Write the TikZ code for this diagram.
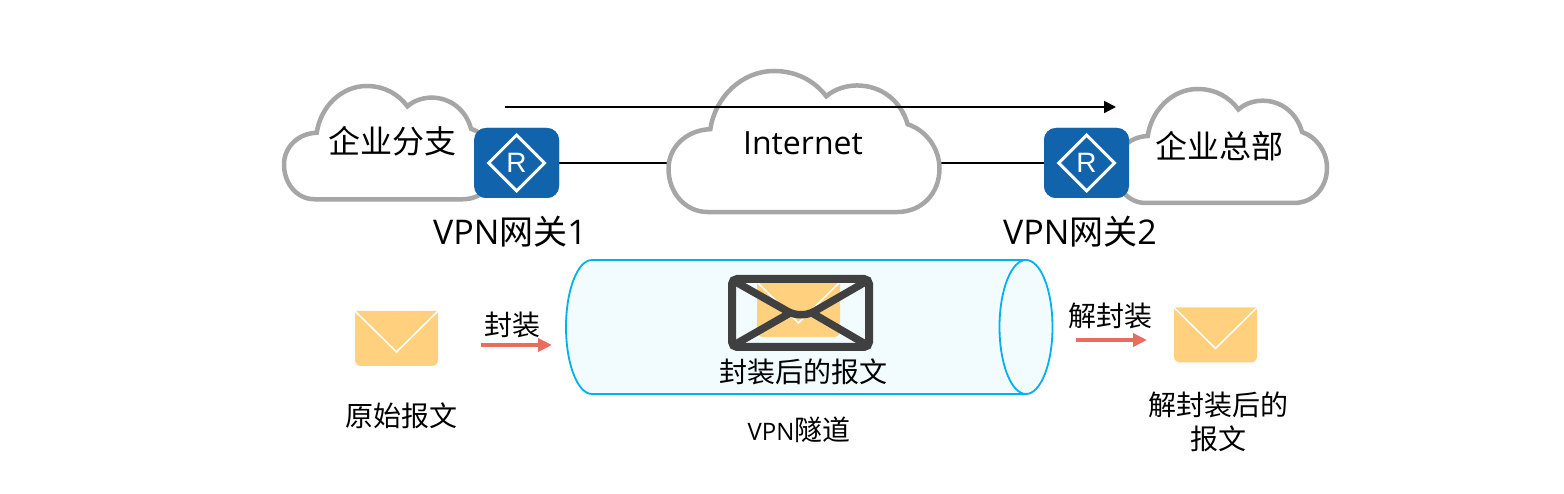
\documentclass[tikz,border=0pt]{standalone}
\usepackage{fontspec}
\setmainfont{Open Sans}
\newfontfamily\cjk{Noto Sans CJK SC}
\usetikzlibrary{arrows.meta,shapes.geometric}
\definecolor{cloudgray}{HTML}{A6A6A6}
\definecolor{routerblue}{HTML}{1164AC}
\definecolor{tunnelcyan}{HTML}{00B0F0}
\definecolor{tunnelfill}{HTML}{F2FBFE}
\definecolor{mailyellow}{HTML}{FFD17F}
\definecolor{maildark}{HTML}{404040}
\definecolor{arrowred}{HTML}{E96D5F}
\newcommand{\fsz}[1]{\fontsize{#1}{#1}\selectfont}
\newcommand{\cloudshape}{(118,429) .. controls (50,429) and (0,370) .. (0,297) .. controls (0,235) and (50,180) .. (126,177)
 .. controls (140,80) and (220,0) .. (318,0) .. controls (385,0) and (440,30) .. (475,77) .. controls (500,55) and (535,44) .. (568,44)
 .. controls (640,44) and (700,90) .. (720,162) .. controls (775,180) and (816,235) .. (816,297) .. controls (816,370) and (765,429) .. (688,429) -- cycle}
\newcommand{\mailicon}[2]{\begin{scope}[shift={(#1,#2)}]
 \fill[mailyellow] (0,0) -- (83,0) [rounded corners=6pt] -- (83,55) -- (0,55) [sharp corners] -- cycle;
 \draw[white,line width=1.5pt] (0,0) -- (41.5,41) -- (83,0);
\end{scope}}
\tikzset{
 cloudline/.style={draw=cloudgray,fill=white,line width=4.5pt,line join=miter},
 routerbox/.style={fill=routerblue,rounded corners=12pt,minimum width=85pt,minimum height=70pt,inner sep=0pt},
 routermark/.style={diamond,draw=white,line width=3pt,minimum width=57pt,minimum height=57pt,inner sep=0pt,aspect=1},
 link/.style={draw=black,line width=2pt},
 lbl/.style={inner sep=0pt,font=\cjk\fsz{28},text=black,align=center},
 biglbl/.style={inner sep=0pt,font=\fsz{32},text=black},
 redarrow/.style={draw=arrowred,line width=4pt,-{Triangle[length=14pt,width=13pt]}},
 tube/.style={draw=tunnelcyan,fill=tunnelfill,line width=1.8pt}
}
\begin{document}
\begin{tikzpicture}[x=1pt,y=-1pt]
\useasboundingbox (0,0) rectangle (1564,494);
% named anchors
\node[routerbox] (r1) at (516.5,163) {};
\node[routerbox] (r2) at (1086.5,163) {};
\node[inner sep=0pt,minimum width=271pt,minimum height=141pt] (inet) at (804,141.5) {};
\coordinate (flowstart) at (505,107);
\coordinate (flowend) at (1116,107);
\coordinate (redaS) at (481,345);
\coordinate (redaE) at (552,345);
\coordinate (redbS) at (1076,340);
\coordinate (redbE) at (1147,340);
% connectors under clouds
\draw[link] (r1.east) -- (r1.east -| inet.center);
\draw[link] (r2.west -| inet.center) -- (r2.west);
% clouds
\begin{scope}[shift={(284,86)},xscale=0.2598,yscale=0.2640]
 \path[cloudline] \cloudshape;
\end{scope}
\begin{scope}[shift={(668.5,71)},xscale=0.3321,yscale=0.3287]
 \path[cloudline] \cloudshape;
\end{scope}
\begin{scope}[shift={(1115,89)},xscale=0.2598,yscale=0.2657]
 \path[cloudline] \cloudshape;
\end{scope}
% routers
\node[routerbox] at (r1) {};
\node[routerbox] at (r2) {};
\node[routermark] (m1) at (r1) {};
\node[routermark] (m2) at (r2) {};
\node[inner sep=0pt,text=white,font=\fontspec{Liberation Sans}\fsz{28}] (mr1) at (r1) {R};
\node[inner sep=0pt,text=white,font=\fontspec{Liberation Sans}\fsz{28}] (mr2) at (r2) {R};
% top arrow
\draw[link,-{Triangle[length=12pt,width=12pt]}] (flowstart) -- (flowend);
% top labels
\node[biglbl,font=\cjk\fsz{32}] (t1) at (392,141) {企业分支};
\node[biglbl] (t2) at (803,143) {Internet};
\node[biglbl,font=\cjk\fsz{32}] (t3) at (1219,146) {企业总部};
\node[biglbl,font=\fsz{34}] (g1) at (510,232) {VPN{\cjk\fsz{34}网关}1};
\node[biglbl,font=\fsz{34}] (g2) at (1080,232) {VPN{\cjk\fsz{34}网关}2};
% tunnel
\path[tube] (592,260) -- (1026,260) -- (1026,394) -- (592,394) arc[start angle=90,end angle=270,x radius=26,y radius=67] -- cycle;
\path[tube] (1026,327) ellipse[x radius=26.5,y radius=67];
% envelopes
\mailicon{355}{311}
\mailicon{1174}{307.5}
\mailicon{757}{282}
\draw[maildark,line width=8pt,rounded corners=5pt] (732,279) rectangle (869,347);
\draw[maildark,line width=7.5pt] (734,281) -- (787,311) .. controls (795,316) and (807,316) .. (815,311) -- (867,281);
\draw[maildark,line width=7.5pt] (734,345) -- (790,313);
\draw[maildark,line width=7.5pt] (867,345) -- (812,313);
% red arrows
\draw[redarrow] (redaS) -- (redaE);
\draw[redarrow] (redbS) -- (redbE);
% labels
\node[lbl] (l1) at (512,325) {封装};
\node[lbl] (l2) at (1110,316) {解封装};
\node[lbl] (l3) at (803,372) {封装后的报文};
\node[lbl] (l4) at (401,416) {原始报文};
\node[lbl,font=\fsz{24}] (l5) at (799,430) {VPN{\cjk\fsz{28}隧道}};
\node[lbl] (l6) at (1218,422) {解封装后的\\[6pt]报文};
\end{tikzpicture}
\end{document}
